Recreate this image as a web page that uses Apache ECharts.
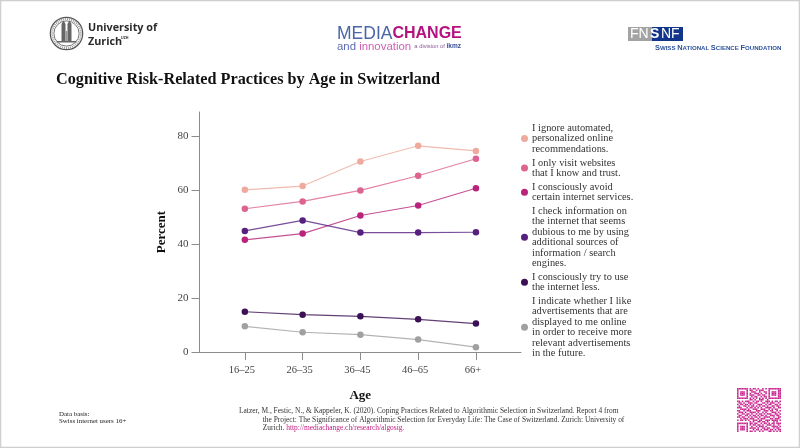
<!DOCTYPE html>
<html>
<head>
<meta charset="utf-8">
<title>Cognitive Risk-Related Practices by Age in Switzerland</title>
<script src="https://cdn.jsdelivr.net/npm/echarts@6/dist/echarts.min.js"></script>
<style>
  html, body { margin: 0; padding: 0; background: #fff; }
  #container { width: 800px; height: 448px; }
</style>
</head>
<body>
<div id="container"></div>
<script>
var ageGroups = ['16–25', '26–35', '36–45', '46–65', '66+'];
var ignoreAutomated = [60.0, 61.4, 70.5, 76.3, 74.4];
var onlyVisitKnown = [53.0, 55.7, 59.8, 65.2, 71.5];
var avoidServices = [41.5, 43.8, 50.5, 54.2, 60.6];
var checkInformation = [44.8, 48.7, 44.2, 44.2, 44.3];
var useInternetLess = [14.9, 13.8, 13.2, 12.1, 10.5];
var indicateAds = [9.5, 7.3, 6.4, 4.6, 1.8];
var yTicks = [0, 20, 40, 60, 80];

var seriesNames = [
    'I ignore automated,\npersonalized online\nrecommendations.',
    'I only visit websites\nthat I know and trust.',
    'I consciously avoid\ncertain internet services.',
    'I check information on\nthe internet that seems\ndubious to me by using\nadditional sources of\ninformation / search\nengines.',
    'I consciously try to use\nthe internet less.',
    'I indicate whether I like\nadvertisements that are\ndisplayed to me online\nin order to receive more\nrelevant advertisements\nin the future.'
];
var seriesValues = [ignoreAutomated, onlyVisitKnown, avoidServices, checkInformation, useInternetLess, indicateAds];
var seriesColors = ['#eeaa9c', '#dd6390', '#b82479', '#57207f', '#3b1054', '#a0a0a0'];

// decorative module pattern for the QR code in the corner
var qrRows = [
    '1111111010110100101011111111',
    '1000001011001011100010000011',
    '1011101001110010011010111011',
    '1011101010011101001010111011',
    '1011101011100110110010111011',
    '1000001001011001011010000011',
    '1111111010101010101011111111',
    '0000000011010011100100000000',
    '1101011100101101001110101101',
    '0110100111011000110101110010',
    '1011011010100111001011001101',
    '0100110101101010110100110110',
    '1110001011010101001111010011',
    '0011110100111001110010101100',
    '1100101110001110011101100101',
    '0111010011110100101000111010',
    '1001101101001011010111001101',
    '0110011010110101101001110110',
    '1101100101011010011110010011',
    '0010111011100101110001101110',
    '1011010100111011001110111101',
    '0000000010100110110100010100',
    '1111111011011001011010110111',
    '1000001010110110100111010010',
    '1011101001001011101000111101',
    '1011101011110100110110010110',
    '1011101000101101011101101011',
    '1000001011010010100011010101'
];

var serif = '"Liberation Serif", serif';
var sans = '"Liberation Sans", sans-serif';
var qrColor = '#c9258f';

var dom = document.getElementById('container');
var myChart = echarts.init(dom, null, { renderer: 'canvas' });

function qrCells() {
    var cells = [];
    var size = 44 / qrRows.length;
    qrRows.forEach(function (row, r) {
        row.split('').forEach(function (c, i) {
            if (c === '1') {
                cells.push({
                    type: 'rect',
                    shape: { x: 737 + i * size, y: 388 + r * size, width: size, height: size },
                    style: { fill: qrColor }
                });
            }
        });
    });
    return cells;
}

function sealParts() {
    var stroke = '#555';
    var parts = [
        { type: 'circle', shape: { cx: 66.5, cy: 33.5, r: 16.2 }, style: { fill: '#fff', stroke: stroke, lineWidth: 1.2 } },
        { type: 'circle', shape: { cx: 66.5, cy: 33.5, r: 12.6 }, style: { fill: '#fff', stroke: stroke, lineWidth: 0.8 } },
        { type: 'circle', shape: { cx: 66.5, cy: 33.5, r: 14.4 }, style: { fill: 'none', stroke: '#999', lineWidth: 2, lineDash: [1, 1] } },
        // towers
        { type: 'rect', shape: { x: 61.5, y: 24, width: 4, height: 17 }, style: { fill: '#666' } },
        { type: 'rect', shape: { x: 67.5, y: 24, width: 4, height: 17 }, style: { fill: '#666' } },
        { type: 'rect', shape: { x: 65.5, y: 31, width: 2, height: 10 }, style: { fill: '#999' } },
        { type: 'polygon', shape: { points: [[61.5, 24], [63.5, 20.5], [65.5, 24]] }, style: { fill: '#666' } },
        { type: 'polygon', shape: { points: [[67.5, 24], [69.5, 20.5], [71.5, 24]] }, style: { fill: '#666' } },
        { type: 'rect', shape: { x: 57, y: 41, width: 19, height: 1.5 }, style: { fill: '#666' } }
    ];
    return parts;
}

var graphicElements = [
    { type: 'rect', shape: { x: 0.5, y: 0.5, width: 799, height: 447 }, style: { fill: 'none', stroke: '#cfcfcf', lineWidth: 1.5 } },

    // University of Zurich
    { type: 'text', x: 88, y: 22, style: { text: 'University of', font: 'bold 10.8px "Open Sans", sans-serif', fill: '#2b2b2b' } },
    { type: 'text', x: 88, y: 36.5, style: { text: 'Zurich', font: 'bold 10.8px "Open Sans", sans-serif', fill: '#2b2b2b' } },
    { type: 'text', x: 121, y: 36, style: { text: 'UZH', font: 'bold 3.6px "Open Sans", sans-serif', fill: '#2b2b2b' } },

    // Media Change
    { type: 'text', x: 337, y: 25, style: {
        text: '{a|MEDIA}{b|CHANGE}',
        rich: {
            a: { font: '17.5px ' + sans, fill: '#4a66a8' },
            b: { font: 'bold 16px ' + sans, fill: '#b5127f' }
        }
    } },
    { type: 'text', x: 337, y: 41, style: {
        text: '{a|and }{b|innovation}{c|  a division of }{d|ikmz}',
        rich: {
            a: { font: '11.4px ' + sans, fill: '#5b6cb2' },
            b: { font: '11.4px ' + sans, fill: '#cf5fb4' },
            c: { font: '5.8px ' + sans, fill: '#8a5a98' },
            d: { font: 'bold 6.5px ' + sans, fill: '#3a4f95' }
        }
    } },

    // SNF
    { type: 'rect', shape: { x: 628, y: 27, width: 24, height: 14 }, style: { fill: '#a3a3a3' } },
    { type: 'rect', shape: { x: 652, y: 27, width: 31, height: 14 }, style: { fill: '#12358c' } },
    { type: 'text', x: 630, y: 27.5, style: { text: 'FN', font: '14px ' + sans, fill: '#fff' } },
    { type: 'text', x: 650, y: 27.5, style: { text: 'S', font: 'bold 14px ' + sans, fill: '#fff' } },
    { type: 'text', x: 661, y: 27.5, style: { text: 'NF', font: '14px ' + sans, fill: '#fff' } },
    { type: 'text', x: 655, y: 44.5, style: {
        text: '{l|S}{s|WISS }{l|N}{s|ATIONAL }{l|S}{s|CIENCE }{l|F}{s|OUNDATION}',
        rich: {
            l: { font: 'bold 7.4px ' + sans, fill: '#2f5299' },
            s: { font: 'bold 6.1px ' + sans, fill: '#2f5299' }
        }
    } },

    // footer
    { type: 'text', x: 59, y: 410.5, style: { text: 'Data basis:\nSwiss internet users 16+', font: '6.9px ' + serif, fill: '#222', lineHeight: 7.2 } },
    { type: 'text', x: 239, y: 408, style: { text: 'Latzer, M., Festic, N., & Kappeler, K. (2020). Coping Practices Related to Algorithmic Selection in Switzerland. Report 4 from', font: '7.45px ' + serif, fill: '#333' } },
    { type: 'text', x: 262.7, y: 416.4, style: { text: 'the Project: The Significance of Algorithmic Selection for Everyday Life: The Case of Switzerland. Zurich: University of', font: '7.45px ' + serif, fill: '#333' } },
    { type: 'text', x: 262.7, y: 425, style: {
        text: '{a|Zurich. }{b|http://mediachange.ch/research/algosig.}',
        rich: {
            a: { font: '7.45px ' + serif, fill: '#333' },
            b: { font: '7.45px ' + serif, fill: '#c2187f' }
        }
    } }
].concat(sealParts(), qrCells());

var option = {
    animation: false,
    backgroundColor: '#fff',
    title: {
        text: 'Cognitive Risk-Related Practices by Age in Switzerland',
        left: 56,
        top: 72,
        padding: 0,
        textStyle: { fontFamily: serif, fontWeight: 'bold', fontSize: 16.2, color: '#111' }
    },
    legend: {
        orient: 'vertical',
        left: 521,
        top: 123,
        padding: 0,
        itemWidth: 7,
        itemHeight: 7,
        itemGap: 3.4,
        icon: 'circle',
        textStyle: {
            fontFamily: serif,
            fontSize: 10.4,
            lineHeight: 10.4,
            color: '#333',
            padding: [0, 0, 0, -1]
        },
        data: seriesNames
    },
    grid: { left: 199.5, right: 279, top: 112, bottom: 96 },
    xAxis: {
        type: 'value',
        min: -0.785,
        max: 4.78,
        name: 'Age',
        nameLocation: 'middle',
        nameGap: 37,
        nameTextStyle: { fontFamily: serif, fontWeight: 'bold', fontSize: 13, color: '#111' },
        splitLine: { show: false },
        axisLine: { show: true, onZero: false, lineStyle: { color: '#8c8c8c', width: 1 } },
        axisTick: { show: true, length: 8, customValues: [0, 1, 2, 3, 4], lineStyle: { color: '#8c8c8c' } },
        axisLabel: {
            customValues: [0, 1, 2, 3, 4],
            margin: 13,
            fontFamily: serif,
            fontSize: 10.5,
            color: '#444',
            padding: [0, 6, 0, 0],
            formatter: function (v) { return ageGroups[v]; }
        }
    },
    yAxis: {
        type: 'value',
        min: 0,
        max: 88.8,
        name: 'Percent',
        nameLocation: 'middle',
        nameGap: 31,
        nameTextStyle: { fontFamily: serif, fontWeight: 'bold', fontSize: 13, color: '#111' },
        splitLine: { show: false },
        axisLine: { show: true, onZero: false, lineStyle: { color: '#8c8c8c', width: 1 } },
        axisTick: { show: true, length: 8, customValues: yTicks, lineStyle: { color: '#8c8c8c' } },
        axisLabel: {
            customValues: yTicks,
            margin: 11,
            fontFamily: serif,
            fontSize: 11,
            color: '#444'
        }
    },
    series: seriesNames.map(function (name, s) {
        return {
            name: name,
            type: 'line',
            symbol: 'circle',
            symbolSize: 6.5,
            data: seriesValues[s].map(function (v, i) { return [i, v]; }),
            itemStyle: { color: seriesColors[s] },
            lineStyle: { color: seriesColors[s], width: 1.2, opacity: 0.8 }
        };
    }),
    graphic: { elements: graphicElements }
};

myChart.setOption(option);
</script>
</body>
</html>
